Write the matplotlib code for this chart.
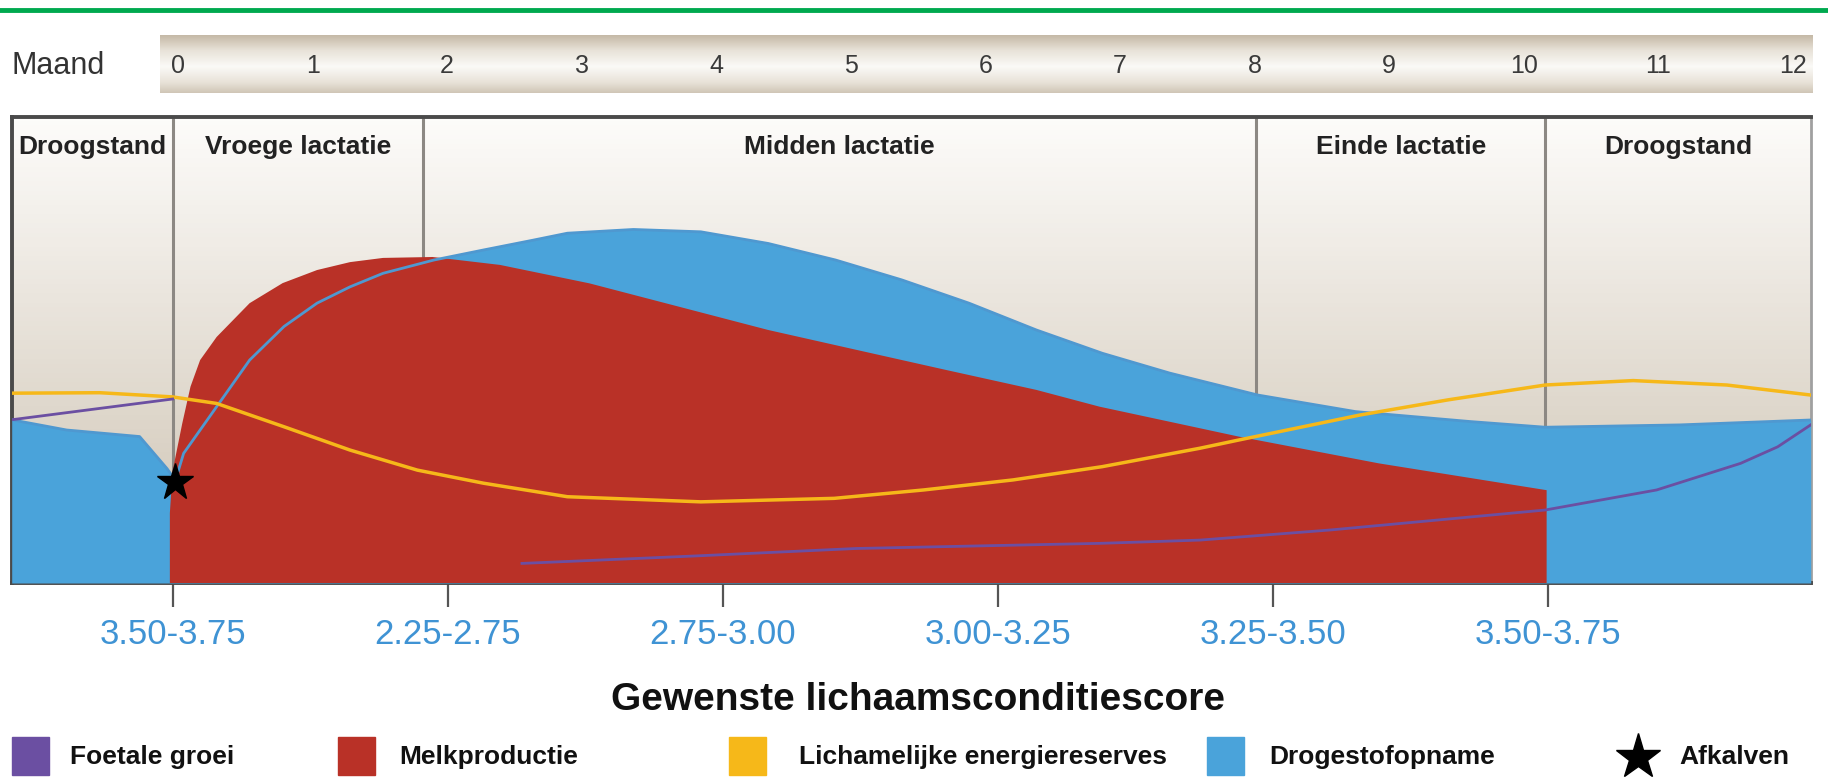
import numpy as np
import matplotlib.pyplot as plt
from matplotlib.colors import LinearSegmentedColormap
from matplotlib.patches import Rectangle
from matplotlib.lines import Line2D

plt.rcParams['font.family'] = ['Liberation Sans', 'DejaVu Sans']

# ---- data (x in months after calving, y in % of chart height) ----
months = list(range(13))
phase_bounds = [-1.17, 0, 1.82, 7.88, 9.98, 11.91]
phase_names = ["Droogstand", "Vroege lactatie", "Midden lactatie", "Einde lactatie", "Droogstand"]

bcs_ticks = [0, 2, 4, 6, 8, 10]
bcs_labels = ["3.50-3.75", "2.25-2.75", "2.75-3.00", "3.00-3.25", "3.25-3.50", "3.50-3.75"]

# Drogestofopname (dry matter intake)
dmi_x = [-1.17, -0.77, -0.24, -0.04, 0.02, 0.08, 0.2, 0.32, 0.56, 0.81, 1.05, 1.29, 1.53, 1.9,
         2.26, 2.62, 2.87, 3.35, 3.84, 4.33, 4.82, 5.3, 5.79, 6.28, 6.76, 7.25, 7.89, 8.6,
         9.44, 9.98, 10.96, 11.91]
dmi_y = [35, 32.8, 31.4, 24.5, 22, 27.8, 32.8, 37.8, 47.8, 55, 60, 63.5, 66.4, 69.25,
         71.4, 73.5, 75, 75.8, 75.3, 72.8, 69.25, 65, 60, 54.25, 49.25, 45, 40.3, 36.75,
         34.6, 33.4, 33.9, 34.95]

# Melkproductie (milk production)
milk_x = [-0.02, -0.02, 0.0, 0.07, 0.13, 0.2, 0.32, 0.56, 0.8, 1.05, 1.29, 1.53, 1.89, 2.38,
          3.03, 3.68, 4.33, 4.97, 5.62, 6.28, 6.74, 7.75, 8.77, 9.99, 9.99]
milk_y = [0, 15, 24, 34.2, 42.1, 47.8, 52.75, 60, 64.3, 67.1, 68.8, 69.7, 69.9, 68.2,
          64.25, 59.25, 54.25, 50, 45.7, 41.4, 37.8, 31.4, 25.65, 19.9, 0]

# Lichamelijke energiereserves (body reserves)
res_x = [-1.17, -0.53, 0.0, 0.32, 0.81, 1.29, 1.78, 2.26, 2.87, 3.84, 4.81, 5.46, 6.11, 6.76,
         7.47, 7.75, 8.63, 9.27, 9.98, 10.62, 11.3, 11.91]
res_y = [40.7, 40.8, 39.9, 38.5, 33.5, 28.5, 24.2, 21.4, 18.5, 17.4, 18.15, 19.95, 22.1, 24.95,
         28.9, 30.65, 36, 39.25, 42.45, 43.4, 42.45, 40.3]

# Foetale groei (foetal growth)
fet1_x = [-1.17, 0.0]
fet1_y = [35, 39.45]
fet2_x = [2.54, 3.8, 4.97, 6.74, 7.47, 8.43, 9.98, 10.79, 11.4, 11.67, 11.91]
fet2_y = [4.2, 5.8, 7.4, 8.5, 9.2, 11.4, 15.65, 19.95, 25.65, 29.2, 33.9]

calving = (0.02, 21.75)

RED = "#b93127"
BLUE = "#4aa3da"
YELLOW = "#f6b819"
PURPLE = "#6b4fa2"
TICKBLUE = "#3f93d4"

W, H = 1828, 779
fig = plt.figure(figsize=(W / 100, H / 100), dpi=100)

# green rule at the top
fig.add_artist(Line2D([0, 1], [1 - 9.5 / H] * 2, color="#00a94f", lw=3.5, transform=fig.transFigure))

# month band
band = fig.add_axes([160 / W, 1 - 93 / H, 1653 / W, 58 / H])
grad = np.abs(np.linspace(-1, 1, 60) - 0.1)
band_cmap = LinearSegmentedColormap.from_list("band", ["#faf9f6", "#e8e2d8", "#c3b7a4"])
band.imshow(grad[:, None], aspect="auto", cmap=band_cmap, extent=[0, 1, 0, 1], transform=band.transAxes)
band.set_xlim(-0.134, 12.15)
band.set_ylim(0, 1)
for m in months:
    band.text(m, 0.47, str(m), ha="center", va="center", fontsize=18, color="#3a3a3a")
band.axis("off")
fig.text(12 / W, 1 - 66 / H, "Maand", fontsize=22, color="#333333", va="center")

# main chart
ax = fig.add_axes([11.7 / W, 1 - 583 / H, 1799 / W, 466.4 / H])
ax.set_xlim(phase_bounds[0], phase_bounds[-1])
ax.set_ylim(0, 100)
bg_cmap = LinearSegmentedColormap.from_list("bg", ["#fdfcfa", "#cdc2b1"])
ax.imshow(np.linspace(0, 1, 100)[:, None], aspect="auto", cmap=bg_cmap, extent=[0, 1, 0, 1],
          transform=ax.transAxes, zorder=0)

for b in phase_bounds[1:-1]:
    ax.axvline(b, color="#8c8883", lw=2.2, zorder=1)
for i, name in enumerate(phase_names):
    c = (phase_bounds[i] + phase_bounds[i + 1]) / 2
    ax.text(c, 93.5, name, ha="center", va="center", fontsize=19, fontweight="bold", color="#222222", zorder=2)

ax.fill_between(dmi_x, 0, dmi_y, color=BLUE, lw=0, zorder=3)
ax.fill(milk_x, milk_y, color=RED, lw=0, zorder=4)
ax.plot(dmi_x, dmi_y, color="#4f98d0", lw=2, zorder=5)
ax.plot(res_x, res_y, color=YELLOW, lw=2.5, zorder=6)
ax.plot(fet1_x, fet1_y, color=PURPLE, lw=2, zorder=6)
ax.plot(fet2_x, fet2_y, color=PURPLE, lw=2, zorder=6)
ax.plot(*calving, marker="*", color="black", ms=28, zorder=7)

for s in ["top", "left", "bottom"]:
    ax.spines[s].set_color("#4a4a4a")
    ax.spines[s].set_linewidth(2.8)
ax.spines["right"].set_color("#a0a0a0")
ax.spines["right"].set_linewidth(2)
ax.set_xticks(bcs_ticks)
ax.set_xticklabels(bcs_labels, fontsize=25, color=TICKBLUE)
ax.tick_params(axis="x", length=17, width=1.6, color="#555555", pad=8)
ax.set_yticks([])

fig.text(0.5 + 4 / W, 1 - 700 / H, "Gewenste lichaamsconditiescore", ha="center", va="center",
         fontsize=28, fontweight="bold", color="#111111")

# legend row
leg = fig.add_axes([0, 0, 1, 49 / H])
leg.set_xlim(0, W)
leg.set_ylim(0, 49)
leg.axis("off")
items = [(PURPLE, "Foetale groei", 12, 70), (RED, "Melkproductie", 338, 399),
         (YELLOW, "Lichamelijke energiereserves", 729, 799), (BLUE, "Drogestofopname", 1207, 1269)]
for col, lab, x0, tx in items:
    leg.add_patch(Rectangle((x0, 4), 37, 38, color=col))
    leg.text(tx, 22, lab, fontsize=19, fontweight="bold", va="center", color="#111111")
leg.plot(1638, 22, marker="*", color="black", ms=34)
leg.text(1679, 22, "Afkalven", fontsize=19, fontweight="bold", va="center", color="#111111")

fig.savefig("out.png", dpi=100)
